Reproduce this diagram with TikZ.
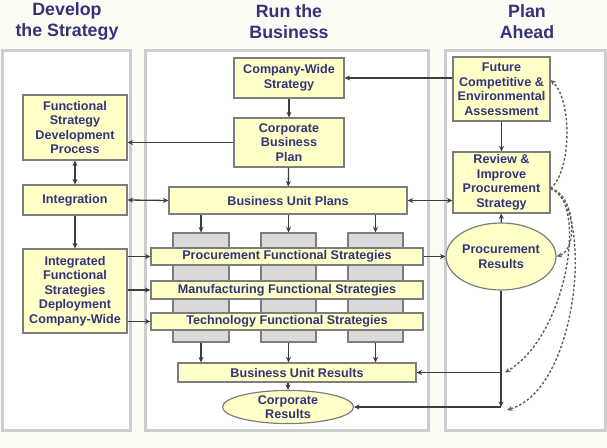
\documentclass[tikz,border=0pt]{standalone}
\usepackage{fontspec}
\setmainfont{Liberation Sans}
\usetikzlibrary{arrows.meta,shapes.geometric}
\definecolor{navy}{RGB}{51,51,122}
\definecolor{boxfill}{RGB}{255,255,200}
\definecolor{boxline}{RGB}{125,125,125}
\definecolor{colfill}{RGB}{218,218,218}
\definecolor{panelline}{RGB}{205,205,205}
\definecolor{pagebg}{RGB}{252,251,244}
\definecolor{arrline}{RGB}{60,60,60}
\definecolor{fbline}{RGB}{95,95,95}
\tikzset{
  box/.style={draw=boxline,fill=boxfill,line width=1.2pt,text=navy,align=center,inner sep=0pt,
    font=\bfseries\fontsize{12.6}{14.5}\selectfont},
  oval/.style={box,ellipse},
  column/.style={draw=boxline,fill=colfill,line width=1.2pt,inner sep=0pt},
  heading/.style={text=navy,align=center,font=\bfseries\fontsize{17.8}{20.5}\selectfont},
  panel/.style={draw=panelline,fill=white,line width=3pt},
  arr/.style={draw=arrline,line width=1.3pt,-{Stealth[length=5.5pt,width=5pt]}},
  both/.style={arr,{Stealth[length=5.5pt,width=5pt]}-{Stealth[length=5.5pt,width=5pt]}},
  fb/.style={arr,dash pattern=on 2.5pt off 2pt,draw=fbline,line width=1.4pt}
}
\begin{document}
\begin{tikzpicture}[x=1pt,y=-1pt]
\useasboundingbox (0,0) rectangle (607,447);
\fill[pagebg] (0,0) rectangle (607,447);
% three panels
\draw[panel] (2,50) rectangle (130,430);
\draw[panel] (145,50) rectangle (428,430);
\draw[panel] (445,50) rectangle (605,430);
\node[heading] (hdev) at (67,21.5) {Develop\\the Strategy};
\node[heading] (hrun) at (289,21.5) {Run the\\Business};
\node[heading] (hplan) at (527,21.5) {Plan\\Ahead};
% develop the strategy
\node[box,minimum width=104pt,minimum height=65pt] (fsdp) at (75,127.5) {Functional\\Strategy\\Development\\Process};
\node[box,minimum width=104pt,minimum height=30pt] (integ) at (75,200) {Integration};
\node[box,minimum width=104pt,minimum height=84pt] (ifsd) at (75,291) {Integrated\\Functional\\Strategies\\Deployment\\Company-Wide};
% run the business
\node[box,minimum width=110pt,minimum height=40pt] (cws) at (289,78) {Company-Wide\\Strategy};
\node[box,minimum width=110pt,minimum height=49pt] (cbp) at (289,142.5) {Corporate\\Business\\Plan};
\node[box,minimum width=238pt,minimum height=27pt] (bup) at (288,200.5) {Business Unit Plans};
\node[column,minimum width=56pt,minimum height=109pt] (col1) at (201,287.5) {};
\node[column,minimum width=55pt,minimum height=109pt] (col2) at (288.5,287.5) {};
\node[column,minimum width=55pt,minimum height=109pt] (col3) at (375.5,287.5) {};
\node[box,minimum width=272pt,minimum height=17pt] (pfs) at (287,256.5) {Procurement Functional Strategies};
\node[box,minimum width=272pt,minimum height=18pt] (mfs) at (287,290) {Manufacturing Functional Strategies};
\node[box,minimum width=272pt,minimum height=17pt] (tfs) at (287,321.5) {Technology Functional Strategies};
\node[box,minimum width=238pt,minimum height=19pt] (bur) at (297,372.5) {Business Unit Results};
\node[oval,minimum width=131pt,minimum height=29pt] (cres) at (288,407) {Corporate\\Results};
% plan ahead
\node[box,minimum width=97pt,minimum height=64pt] (fcea) at (501.5,89) {Future\\Competitive \&\\Environmental\\Assessment};
\node[box,minimum width=97pt,minimum height=61pt] (ripst) at (501.5,182.5) {Review \&\\Improve\\Procurement\\Strategy};
\node[oval,minimum width=96pt,minimum height=67pt] (pres) at (501,256.5) {Procurement\\Results};
% connectors
\draw[arr] (fcea.west |- cws.east) -- (cws.east);
\draw[arr] (cws) -- (cbp);
\draw[arr] (cbp.west) -- (cbp.west -| fsdp.east);
\draw[arr] (cbp) -- (bup);
\draw[both] (fsdp) -- (integ);
\draw[arr] (integ) -- (ifsd);
\draw[both] (integ.east) -- (bup.west);
\draw[both] (bup.east) -- (bup.east -| ripst.west);
\draw[arr] (fcea) -- (ripst);
\draw[arr] (pres) -- (ripst);
\foreach \c in {col1,col2,col3} {
  \draw[arr] (bup.south -| \c.north) -- (\c.north);
  \draw[arr] (\c.south) -- (\c.south |- bur.north);
}
\foreach \s in {pfs,mfs,tfs}
  \draw[arr] (\s.west -| ifsd.east) -- (\s.west);
\draw[arr] (pfs.east) -- (pres.west);
\draw[arr] (bur.south -| cres.north) -- (cres.north);
\coordinate (corner) at (pres.south |- cres.east);
\draw[arr] (pres.south) -- (corner);
\draw[arr] (corner) -- (cres.east);
\draw[arr] (pres.south |- bur.east) -- (bur.east);
% feedback loops
\coordinate (fbstart) at ([yshift=-6pt]ripst.east);
\draw[fb] (fbstart) .. controls (572,170) and (572,100) .. ([yshift=9pt]fcea.east);
\draw[fb] (fbstart) .. controls (576,195) and (578,250) .. (pres.east);
\draw[fb] (fbstart) .. controls (588,200) and (568,335) .. ([xshift=4pt]pres.south |- bur.east);
\draw[fb] (fbstart) .. controls (594,205) and (580,388) .. ([xshift=6pt,yshift=-3pt]corner);
\end{tikzpicture}
\end{document}
